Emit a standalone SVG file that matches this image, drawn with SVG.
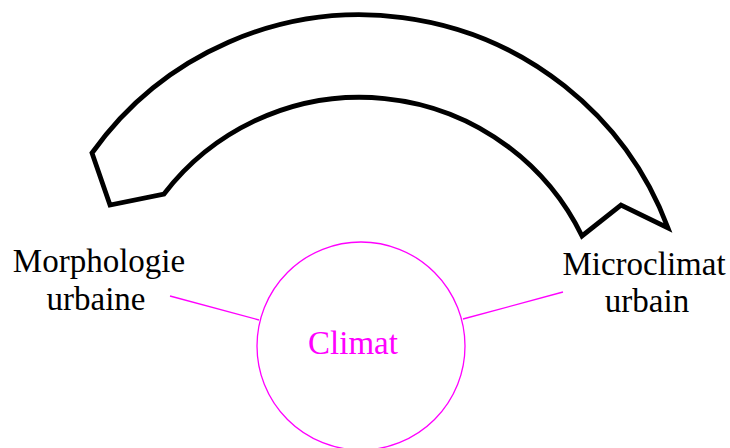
<svg xmlns="http://www.w3.org/2000/svg" width="730" height="448" viewBox="0 0 730 448">
<style>
.lbl{font-family:"Liberation Serif","Times New Roman",serif;font-size:33px;fill:#000;text-anchor:middle}
.mag{stroke:#ff00ff;stroke-width:1.3;fill:none}
</style>
<rect width="730" height="448" fill="#fff"/>
<g id="arrow">
<path d="M 110,205 L 92,153 A 329 329 0 0 1 668,228 L 621,205 L 582,236 A 247 247 0 0 0 164,194 Z" fill="#fff" stroke="#000" stroke-width="4.8" stroke-linejoin="miter"/>
</g>
<g id="connectors">
<line class="mag" x1="170" y1="296" x2="259" y2="320"/>
<line class="mag" x1="463" y1="319" x2="563" y2="292"/>
</g>
<g id="climat">
<circle class="mag" cx="361" cy="346" r="104"/>
<text class="lbl" x="353" y="354" style="fill:#ff00ff">Climat</text>
</g>
<g id="morphologie">
<text class="lbl" x="99" y="272">Morphologie</text>
<text class="lbl" x="96" y="310">urbaine</text>
</g>
<g id="microclimat">
<text class="lbl" x="644" y="275">Microclimat</text>
<text class="lbl" x="647" y="312">urbain</text>
</g>
</svg>
